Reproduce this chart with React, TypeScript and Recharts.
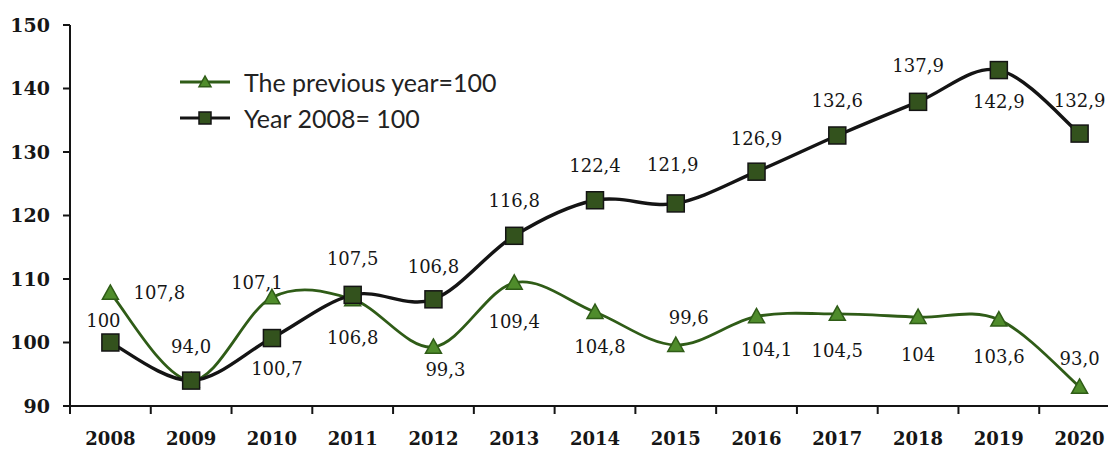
import React from 'react';
import { LineChart, Line, XAxis, YAxis, Legend, LabelList } from 'recharts';

const YEARS = ['2008', '2009', '2010', '2011', '2012', '2013', '2014', '2015', '2016', '2017', '2018', '2019', '2020'];
const PREV_YEAR = [107.8, 94.0, 107.1, 106.8, 99.3, 109.4, 104.8, 99.6, 104.1, 104.5, 104, 103.6, 93.0];
const BASE_2008 = [100, 94.0, 100.7, 107.5, 106.8, 116.8, 122.4, 121.9, 126.9, 132.6, 137.9, 142.9, 132.9];
const PREV_LABELS = ['107,8', '94,0', '107,1', '106,8', '99,3', '109,4', '104,8', '99,6', '104,1', '104,5', '104', '103,6', '93,0'];
// 2009 shares one label for both series
const BASE_LABELS = ['100', '', '100,7', '107,5', '106,8', '116,8', '122,4', '121,9', '126,9', '132,6', '137,9', '142,9', '132,9'];
const Y_TICKS = [90, 100, 110, 120, 130, 140, 150];

const PREV_NAME = 'The previous year=100';
const BASE_NAME = 'Year 2008= 100';

// label offsets from the marker (dx, dy)
const PREV_LABEL_OFFSET = [[49, 0], [0, -34], [-15, -15], [0, 38], [12, 23], [0, 39], [5, 34], [13, -28], [10, 33], [0, 37], [0, 37], [0, 37], [0, -28]];
const BASE_LABEL_OFFSET = [[-7, -22], [0, 0], [5, 30], [0, -36], [0, -33], [0, -35], [0, -35], [-3, -39], [0, -33], [0, -35], [0, -36], [0, 31], [0, -33]];

const W = 1125;
const H = 450;
const MARGIN = { top: 25, right: 5, bottom: 0, left: 0 };
const Y_AXIS_W = 70;
const X_AXIS_H = 44;
const PLOT_W = W - MARGIN.left - MARGIN.right - Y_AXIS_W;
const HALF_BAND = PLOT_W / YEARS.length / 2;
const AXIS_Y = H - MARGIN.bottom - X_AXIS_H;

const GREEN_LINE = '#2f5c17';
const GREEN_FILL = '#4f8c2b';
const DARK_LINE = '#141414';
const DARK_FILL = '#33521d';
const TEXT = '#161616';

const data = YEARS.map((year, i) => ({ year, prev: PREV_YEAR[i], base: BASE_2008[i] }));

// Catmull-Rom like smoothing, close to Excel's smoothed lines
const smoothCurve = (context: any) => {
    let pts: number[][] = [];
    return {
        areaStart() {},
        areaEnd() {},
        lineStart() { pts = []; },
        point(x: number, y: number) { pts.push([+x, +y]); },
        lineEnd() {
            const n = pts.length;
            if (!n) return;
            context.moveTo(pts[0][0], pts[0][1]);
            for (let i = 0; i < n - 1; i++) {
                const p0 = pts[i > 0 ? i - 1 : i];
                const p1 = pts[i];
                const p2 = pts[i + 1];
                const p3 = pts[i + 2 < n ? i + 2 : i + 1];
                context.bezierCurveTo(
                    p1[0] + (p2[0] - p0[0]) / 6, p1[1] + (p2[1] - p0[1]) / 6,
                    p2[0] - (p3[0] - p1[0]) / 6, p2[1] - (p3[1] - p1[1]) / 6,
                    p2[0], p2[1]
                );
            }
        },
    };
};

const Triangle = ({ cx, cy, r = 8 }: any) => (
    <polygon
        points={`${cx},${cy - r} ${cx - r},${cy + r * 0.8} ${cx + r},${cy + r * 0.8}`}
        fill={GREEN_FILL}
        stroke={GREEN_LINE}
        strokeWidth={1.5}
    />
);

const Square = ({ cx, cy, r = 8.5 }: any) => (
    <rect x={cx - r} y={cy - r} width={r * 2} height={r * 2} fill={DARK_FILL} stroke={DARK_LINE} strokeWidth={1.5} />
);

const TriangleDot = (props: any) => (props.cx == null ? null : <Triangle cx={props.cx} cy={props.cy} />);
const SquareDot = (props: any) => (props.cx == null ? null : <Square cx={props.cx} cy={props.cy} />);

const makeLabel = (labels: string[], offsets: number[][]) => (props: any) => {
    const { index } = props;
    const text = labels[index];
    if (!text) return null;
    const x = props.x ?? props.viewBox?.x;
    const y = props.y ?? props.viewBox?.y;
    const [dx, dy] = offsets[index];
    return (
        <text
            x={x + dx}
            y={y + dy}
            textAnchor="middle"
            dominantBaseline="central"
            fill={TEXT}
            style={{ fontFamily: '"DejaVu Serif", serif', fontSize: 18 }}
        >
            {text}
        </text>
    );
};

const XTick = ({ x, payload }: any) => (
    <g>
        <line x1={x - HALF_BAND} x2={x - HALF_BAND} y1={AXIS_Y} y2={AXIS_Y + 8} stroke={DARK_LINE} strokeWidth={2} />
        <text
            x={x}
            y={AXIS_Y + 32}
            textAnchor="middle"
            dominantBaseline="central"
            fill={TEXT}
            style={{ fontFamily: '"DejaVu Serif", serif', fontSize: 18, fontWeight: 700 }}
        >
            {payload.value}
        </text>
    </g>
);

const LegendContent = () => (
    <div style={{ fontFamily: 'Lato, sans-serif', fontSize: 25, color: '#222', lineHeight: 1 }}>
        {[PREV_NAME, BASE_NAME].map((name, i) => (
            <div key={name} style={{ display: 'flex', alignItems: 'center', height: 36 }}>
                <svg width={50} height={22} style={{ display: 'block' }}>
                    <line x1={0} x2={50} y1={11} y2={11} stroke={i === 0 ? GREEN_LINE : DARK_LINE} strokeWidth={3} />
                    {i === 0 ? <Triangle cx={25} cy={11} r={6} /> : <Square cx={25} cy={11} r={6} />}
                </svg>
                <span style={{ marginLeft: 14 }}>{name}</span>
            </div>
        ))}
    </div>
);

export default function App() {
    return (
        <div style={{ position: 'absolute', left: 0, top: 0, width: 1108, height: H, overflow: 'hidden', background: '#fff' }}>
            <LineChart width={W} height={H} data={data} margin={MARGIN}>
                <XAxis
                    dataKey="year"
                    height={X_AXIS_H}
                    padding={{ left: HALF_BAND, right: HALF_BAND }}
                    axisLine={{ stroke: DARK_LINE, strokeWidth: 2 }}
                    tickLine={false}
                    tick={<XTick />}
                    interval={0}
                />
                <YAxis
                    width={Y_AXIS_W}
                    domain={[90, 150]}
                    ticks={Y_TICKS}
                    interval={0}
                    axisLine={{ stroke: DARK_LINE, strokeWidth: 2 }}
                    tickLine={{ stroke: DARK_LINE, strokeWidth: 2 }}
                    tickSize={7}
                    tickMargin={13}
                    tick={{ fill: TEXT, fontFamily: '"DejaVu Serif", serif', fontSize: 19, fontWeight: 700 }}
                />
                <Legend
                    layout="vertical"
                    align="center"
                    verticalAlign="middle"
                    content={<LegendContent />}
                    wrapperStyle={{ top: 64, left: 180, width: 'auto' }}
                />
                <Line
                    name={PREV_NAME}
                    dataKey="prev"
                    type={smoothCurve as any}
                    stroke={GREEN_LINE}
                    strokeWidth={2.8}
                    dot={<TriangleDot />}
                    activeDot={false}
                    isAnimationActive={false}
                >
                    <LabelList dataKey="prev" content={makeLabel(PREV_LABELS, PREV_LABEL_OFFSET)} />
                </Line>
                <Line
                    name={BASE_NAME}
                    dataKey="base"
                    type={smoothCurve as any}
                    stroke={DARK_LINE}
                    strokeWidth={3.4}
                    dot={<SquareDot />}
                    activeDot={false}
                    isAnimationActive={false}
                >
                    <LabelList dataKey="base" content={makeLabel(BASE_LABELS, BASE_LABEL_OFFSET)} />
                </Line>
            </LineChart>
        </div>
    );
}
